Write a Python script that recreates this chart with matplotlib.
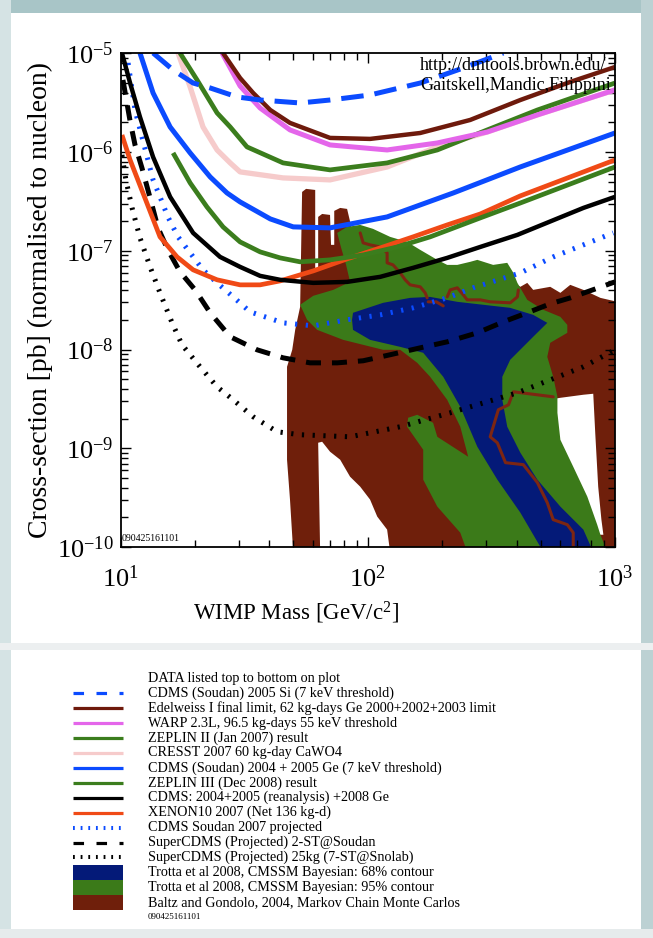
import numpy as np
import matplotlib.pyplot as plt
from matplotlib.patches import Rectangle
from matplotlib.ticker import LogLocator, LogFormatterMathtext, NullFormatter

plt.rcParams['font.family'] = ['Liberation Serif', 'DejaVu Serif']
plt.rcParams['mathtext.fontset'] = 'custom'
plt.rcParams['mathtext.rm'] = 'Liberation Serif'
plt.rcParams['mathtext.it'] = 'Liberation Serif:italic'
plt.rcParams['axes.unicode_minus'] = False

# All curves are stored as log10(mass / GeV) and log10(cross-section / pb)

# --- experimental limits and projections ---
cdms_si_lm = [1.131, 1.212, 1.293, 1.362, 1.471, 1.564, 1.726, 1.847, 2.009, 2.212, 2.386, 2.548]
cdms_si_ls = [-4.997, -5.169, -5.301, -5.351, -5.442, -5.473, -5.503, -5.473, -5.422, -5.301, -5.149, -4.997]

edelweiss_lm = [1.414, 1.483, 1.536, 1.605, 1.685, 1.847, 2.009, 2.212, 2.414, 2.617, 2.819, 3.0]
edelweiss_ls = [-4.997, -5.250, -5.402, -5.574, -5.705, -5.857, -5.867, -5.807, -5.675, -5.473, -5.290, -5.139]

warp_lm = [1.410, 1.483, 1.564, 1.685, 1.847, 2.078, 2.281, 2.483, 2.686, 3.0]
warp_ls = [-4.997, -5.331, -5.554, -5.776, -5.928, -5.979, -5.908, -5.797, -5.624, -5.371]

zeplin2_lm = [1.240, 1.309, 1.390, 1.443, 1.511, 1.657, 1.847, 2.078, 2.281, 2.483, 2.686, 3.0]
zeplin2_ls = [-4.997, -5.270, -5.604, -5.746, -5.948, -6.110, -6.181, -6.110, -5.979, -5.776, -5.574, -5.301]

cresst_lm = [1.232, 1.281, 1.333, 1.390, 1.443, 1.483, 1.657, 1.847, 2.078, 2.281, 2.483, 2.686, 3.0]
cresst_ls = [-4.997, -5.341, -5.746, -5.979, -6.110, -6.201, -6.262, -6.282, -6.151, -5.948, -5.797, -5.624, -5.371]

cdms_ge_lm = [1.078, 1.131, 1.200, 1.281, 1.362, 1.430, 1.483, 1.605, 1.698, 1.847, 2.078, 2.346, 2.617, 3.0]
cdms_ge_ls = [-4.997, -5.402, -5.746, -6.009, -6.252, -6.414, -6.505, -6.677, -6.758, -6.768, -6.657, -6.414, -6.151, -5.807]

zeplin3_lm = [1.212, 1.281, 1.349, 1.414, 1.483, 1.564, 1.645, 1.726, 1.847, 1.981, 2.119, 2.252, 2.455, 2.617, 3.0]
zeplin3_ls = [-6.009, -6.313, -6.556, -6.758, -6.910, -7.011, -7.072, -7.112, -7.092, -7.042, -6.961, -6.859, -6.667, -6.516, -6.151]

cdms_comb_lm = [1.005, 1.038, 1.078, 1.131, 1.200, 1.293, 1.402, 1.483, 1.564, 1.645, 1.779, 1.916,
                2.050, 2.183, 2.321, 2.455, 2.605, 2.872, 3.0]
cdms_comb_ls = [-4.997, -5.301, -5.645, -6.050, -6.454, -6.819, -7.062, -7.163, -7.254, -7.294, -7.325, -7.315,
                -7.264, -7.173, -7.072, -6.961, -6.839, -6.566, -6.454]

xenon_lm = [1.005, 1.038, 1.090, 1.159, 1.228, 1.293, 1.390, 1.483, 1.564, 1.645, 1.779, 1.916,
            2.050, 2.183, 2.321, 2.455, 2.617, 3.0]
xenon_ls = [-5.827, -6.080, -6.414, -6.859, -7.062, -7.193, -7.294, -7.345, -7.345, -7.305, -7.204, -7.082,
            -6.971, -6.859, -6.738, -6.627, -6.444, -6.080]

cdms_proj_lm = [1.030, 1.058, 1.086, 1.107, 1.131, 1.159, 1.191, 1.232, 1.281, 1.333, 1.390, 1.455,
                1.523, 1.657, 1.779, 1.916, 2.050, 2.183, 2.321, 2.426, 2.617, 2.750, 2.993]
cdms_proj_ls = [-5.098, -5.574, -5.847, -6.050, -6.282, -6.454, -6.657, -6.859, -7.021, -7.193, -7.325, -7.467,
                -7.618, -7.730, -7.760, -7.699, -7.649, -7.578, -7.477, -7.375, -7.224, -7.062, -6.819]

scdms_soudan_lm = [1.009, 1.038, 1.058, 1.086, 1.119, 1.151, 1.191, 1.240, 1.301, 1.362, 1.443, 1.552, 1.657,
                   1.766, 1.876, 1.981, 2.090, 2.212, 2.321, 2.443, 2.548, 2.645, 2.738, 2.819, 3.0]
scdms_soudan_ls = [-5.270, -5.686, -5.928, -6.161, -6.465, -6.768, -6.991, -7.213, -7.396, -7.628, -7.871, -8.003,
                   -8.084, -8.135, -8.135, -8.114, -8.053, -7.983, -7.922, -7.831, -7.720, -7.628, -7.537, -7.477,
                   -7.315]

scdms_snolab_lm = [1.005, 1.021, 1.046, 1.078, 1.119, 1.159, 1.208, 1.248, 1.321, 1.390, 1.455, 1.536, 1.633,
                   1.726, 1.928, 2.131, 2.333, 2.605, 2.872, 3.0]
scdms_snolab_ls = [-6.029, -6.282, -6.566, -6.869, -7.163, -7.426, -7.730, -7.952, -8.175, -8.378, -8.509, -8.681,
                   -8.833, -8.863, -8.884, -8.782, -8.641, -8.438, -8.175, -8.003]

# --- theory regions ---
baltz_lm = [1.698, 1.685, 1.673, 1.673, 1.694, 1.706, 1.726, 1.730, 1.734, 1.750, 1.787, 1.787, 1.799, 1.799,
            1.815, 1.847, 1.851, 1.864, 1.864, 1.888, 1.916, 1.936, 2.050, 2.321, 2.605, 2.617, 2.645, 2.669,
            2.738, 2.779, 2.819, 2.872, 2.941, 3.01, 3.01]
baltz_ls = [-10.05, -9.520, -9.116, -8.175, -8.003, -7.801, -7.568, -6.991, -6.404, -6.373, -6.384, -7.193, -7.193,
            -6.657, -6.627, -6.637, -6.940, -6.940, -6.596, -6.566, -6.576, -6.788, -6.940, -7.193, -7.345, -7.365,
            -7.325, -7.396, -7.365, -7.426, -7.345, -7.396, -7.477, -7.517, -10.05]

# gaps in the Baltz & Gondolo region
hole1_lm = [1.799, 1.815, 1.847, 1.888, 1.928, 1.969, 2.009, 2.038, 2.078, 2.090, 1.807]
hole1_ls = [-8.944, -8.934, -9.035, -9.116, -9.288, -9.389, -9.520, -9.692, -9.824, -10.05, -10.05]
hole2_lm = [2.730, 2.779, 2.872, 2.912, 2.920, 2.932, 2.945, 2.953, 2.932, 2.730]
hole2_ls = [-8.509, -8.489, -8.458, -8.448, -8.843, -9.389, -9.723, -9.876, -9.876, -8.711]

trotta95_lm = [1.726, 1.779, 1.860, 1.928, 1.912, 1.892, 1.876, 1.916, 1.969, 2.021, 2.090, 2.159, 2.212, 2.281,
               2.321, 2.362, 2.414, 2.443, 2.507, 2.564, 2.589, 2.605, 2.645, 2.710, 2.779, 2.807, 2.807, 2.738,
               2.726, 2.750, 2.767, 2.767, 2.779, 2.831, 2.888, 2.928, 2.941, 2.969, 2.402, 2.374, 2.281, 2.224,
               2.224, 2.159, 2.163, 2.200, 2.264, 2.281, 2.406, 2.374, 2.321, 2.252, 2.200, 2.131, 2.062, 1.900,
               1.795, 1.754]
trotta95_ls = [-7.547, -7.456, -7.396, -7.315, -7.143, -6.971, -6.819, -6.758, -6.738, -6.778, -6.859, -6.910,
               -6.991, -7.092, -7.143, -7.143, -7.112, -7.092, -7.143, -7.122, -7.224, -7.325, -7.497, -7.598,
               -7.669, -7.750, -7.831, -7.932, -8.074, -8.276, -8.479, -8.641, -8.914, -9.187, -9.490, -9.774,
               -9.876, -10.05, -10.05, -9.855, -9.591, -9.318, -9.015, -8.782, -8.691, -8.661, -8.742, -8.884,
               -9.086, -8.782, -8.509, -8.276, -8.135, -8.003, -8.003, -7.902, -7.801, -7.699]

trotta68_lm = [1.936, 1.940, 2.062, 2.171, 2.252, 2.362, 2.467, 2.576, 2.669, 2.726, 2.669, 2.576, 2.544, 2.544,
               2.564, 2.617, 2.686, 2.779, 2.872, 2.912, 2.710, 2.617, 2.524, 2.443, 2.374, 2.305, 2.224, 2.131,
               2.009, 1.940]
trotta68_ls = [-7.699, -7.628, -7.527, -7.477, -7.467, -7.517, -7.547, -7.578, -7.649, -7.730, -7.871, -8.104,
               -8.276, -8.509, -8.782, -9.045, -9.318, -9.591, -9.824, -10.05, -10.05, -9.652, -9.318, -8.985,
               -8.580, -8.276, -8.033, -7.973, -7.902, -7.801]

# thin Baltz & Gondolo contour pieces running through the Trotta regions
bg_line1_lm = [1.969, 1.981, 2.009, 2.050, 2.078, 2.078, 2.102, 2.131, 2.151, 2.171, 2.212, 2.232, 2.240]
bg_line1_ls = [-6.819, -6.920, -6.940, -6.961, -7.021, -7.122, -7.143, -7.224, -7.294, -7.345, -7.365, -7.426, -7.477]
bg_line2_lm = [2.244, 2.277, 2.305]
bg_line2_ls = [-7.517, -7.517, -7.558]
bg_line3_lm = [2.321, 2.333, 2.362, 2.386, 2.402, 2.455, 2.495, 2.576, 2.605, 2.609]
bg_line3_ls = [-7.467, -7.396, -7.375, -7.446, -7.497, -7.497, -7.517, -7.527, -7.467, -7.396]
bg_line4_lm = [2.750, 2.589, 2.569, 2.528, 2.495, 2.524, 2.557, 2.629, 2.686, 2.726, 2.750, 2.807, 2.831, 2.831]
bg_line4_ls = [-8.479, -8.428, -8.560, -8.610, -8.884, -8.945, -9.146, -9.166, -9.348, -9.551, -9.723, -9.774,
               -9.855, -10.0]

BLUE = '#0b4bff'
NAVY = '#041a78'
GREEN_FILL = '#3b7a19'
BROWN_FILL = '#6f1f0b'
BROWN_EDGE = '#7d2612'

# dash patterns (in units of line width) for the plot and for the legend swatches
LONG_DASH = (0, (4.5, 2.2))
DASH_PLOT = (0, (3.0, 2.2))
DASH_LEG = (0, (3.3, 3.9))
DOT_PLOT = (0, (0.45, 1.7))
DOT_LEG = (0, (0.45, 1.45))

# (label, mass, sigma, colour, plot linewidth, plot style, legend style)
limits = [
    ("CDMS (Soudan) 2005 Si (7 keV threshold)", cdms_si_lm, cdms_si_ls, BLUE, 3.6, LONG_DASH, DASH_LEG),
    ("Edelweiss I final limit, 62 kg-days Ge 2000+2002+2003 limit", edelweiss_lm, edelweiss_ls, '#6e1a0c', 3.2, '-', '-'),
    ("WARP 2.3L, 96.5 kg-days 55 keV threshold", warp_lm, warp_ls, '#e466ea', 3.6, '-', '-'),
    ("ZEPLIN II (Jan 2007) result", zeplin2_lm, zeplin2_ls, '#3b7d1d', 3.4, '-', '-'),
    ("CRESST 2007 60 kg-day CaWO4", cresst_lm, cresst_ls, '#f6cbcb', 3.8, '-', '-'),
    ("CDMS (Soudan) 2004 + 2005 Ge (7 keV threshold)", cdms_ge_lm, cdms_ge_ls, BLUE, 3.6, '-', '-'),
    ("ZEPLIN III (Dec 2008) result", zeplin3_lm, zeplin3_ls, '#3b7d1d', 3.4, '-', '-'),
    ("CDMS: 2004+2005 (reanalysis) +2008 Ge", cdms_comb_lm, cdms_comb_ls, 'black', 3.2, '-', '-'),
    ("XENON10 2007 (Net 136 kg-d)", xenon_lm, xenon_ls, '#f04a16', 3.4, '-', '-'),
    ("CDMS Soudan 2007 projected", cdms_proj_lm, cdms_proj_ls, BLUE, 3.6, DOT_PLOT, DOT_LEG),
    ("SuperCDMS (Projected) 2-ST@Soudan", scdms_soudan_lm, scdms_soudan_ls, 'black', 3.6, DASH_PLOT, DASH_LEG),
    ("SuperCDMS (Projected) 25kg (7-ST@Snolab)", scdms_snolab_lm, scdms_snolab_ls, 'black', 3.6, DOT_PLOT, DOT_LEG),
]
regions = [
    ("Trotta et al 2008, CMSSM Bayesian: 68% contour", NAVY),
    ("Trotta et al 2008, CMSSM Bayesian: 95% contour", GREEN_FILL),
    ("Baltz and Gondolo, 2004, Markov Chain Monte Carlos", BROWN_FILL),
]


def to_lin(lm, ls):
    return 10 ** np.asarray(lm), 10 ** np.asarray(ls)


W, H = 653, 938
fig = plt.figure(figsize=(W / 100, H / 100), dpi=100, facecolor='white')

# paper background and legend live on a full-figure axes in pixel units
bg = fig.add_axes([0, 0, 1, 1], zorder=0)
bg.set_xlim(0, W)
bg.set_ylim(H, 0)
bg.axis('off')
bg.add_patch(Rectangle((0, 0), W, 13, color='#a8c5c7', lw=0))
bg.add_patch(Rectangle((0, 0), 11, H, color='#d5e3e4', lw=0))
bg.add_patch(Rectangle((641, 0), 12, H, color='#bcd1d3', lw=0))
bg.add_patch(Rectangle((0, 643), W, 7, color='#eceff0', lw=0))
bg.add_patch(Rectangle((0, 929), W, 9, color='#e6ebec', lw=0))

ax = fig.add_axes([120.7 / W, 1 - 547 / H, 494.3 / W, 493.7 / H], zorder=1)
ax.set_facecolor('white')
ax.set_xscale('log')
ax.set_yscale('log')

# theory regions
ax.fill(*to_lin(baltz_lm, baltz_ls), color=BROWN_FILL, lw=0, zorder=1)
ax.fill(*to_lin(hole1_lm, hole1_ls), color='white', lw=0, zorder=1.1)
ax.fill(*to_lin(hole2_lm, hole2_ls), color='white', lw=0, zorder=1.1)
ax.fill(*to_lin(trotta95_lm, trotta95_ls), color=GREEN_FILL, lw=0, zorder=1.2)
ax.fill(*to_lin(trotta68_lm, trotta68_ls), color=NAVY, lw=0, zorder=1.3)
for lm, ls in [(bg_line1_lm, bg_line1_ls), (bg_line2_lm, bg_line2_ls),
               (bg_line3_lm, bg_line3_ls), (bg_line4_lm, bg_line4_ls)]:
    ax.plot(*to_lin(lm, ls), color=BROWN_EDGE, lw=2.2, zorder=1.4, solid_capstyle='round')

# limit curves; entries earlier in the list sit on top
n = len(limits)
for i, (label, lm, ls, col, lw, style, _) in enumerate(limits):
    ax.plot(*to_lin(lm, ls), color=col, lw=lw, ls=style, zorder=3 + 0.01 * (n - i),
            solid_capstyle='butt', solid_joinstyle='round')

ax.set_xlim(10, 1000)
ax.set_ylim(1e-10, 1e-5)
ax.xaxis.set_major_locator(LogLocator(base=10, numticks=10))
ax.yaxis.set_major_locator(LogLocator(base=10, numticks=10))
ax.xaxis.set_minor_locator(LogLocator(base=10, subs=np.arange(2, 10), numticks=100))
ax.yaxis.set_minor_locator(LogLocator(base=10, subs=np.arange(2, 10), numticks=100))
ax.xaxis.set_major_formatter(LogFormatterMathtext())
ax.yaxis.set_major_formatter(LogFormatterMathtext())
ax.xaxis.set_minor_formatter(NullFormatter())
ax.yaxis.set_minor_formatter(NullFormatter())
ax.tick_params(which='both', direction='in', top=True, right=True, width=1.0, labelsize=19)
ax.tick_params(which='major', length=7)
ax.tick_params(which='minor', length=5)
ax.tick_params(axis='x', pad=13)
ax.tick_params(axis='y', pad=5)
for sp in ax.spines.values():
    sp.set_linewidth(1.3)
    sp.set_zorder(5)

ax.text(0.6055, 0.976, 'http://dmtools.brown.edu/', transform=ax.transAxes, fontsize=13,
        ha='left', va='center', clip_on=True, zorder=6)
ax.text(0.6055, 0.935, 'Gaitskell,Mandic,Filippini', transform=ax.transAxes, fontsize=13,
        ha='left', va='center', clip_on=True, zorder=6)
ax.text(0.002, 0.008, '090425161101', transform=ax.transAxes, fontsize=7, ha='left', va='bottom', zorder=6)

fig.text(296 / W, 1 - 613 / H, 'WIMP Mass [GeV/c$^2$]', ha='center', va='center', fontsize=16.5)
fig.text(40 / W, 1 - 300 / H, 'Cross-section [pb] (normalised to nucleon)', ha='center', va='center',
         rotation=90, fontsize=20)

# legend block under the plot
row0, step = 678.3, 14.93
x0, x1, xt = 73, 123, 148
fs = 10.2
bg.text(xt, row0, 'DATA listed top to bottom on plot', fontsize=fs, ha='left', va='center')
for i, (label, lm, ls, col, lw, style, leg_style) in enumerate(limits):
    y = row0 + step * (i + 1)
    leg_lw = 2.9 if leg_style == DOT_LEG else 2.3
    bg.plot([x0, x1], [y, y], color=col, lw=leg_lw, ls=leg_style, solid_capstyle='butt')
    bg.text(xt, y, label, fontsize=fs, ha='left', va='center')
for j, (label, col) in enumerate(regions):
    y = row0 + step * (len(limits) + 1 + j)
    bg.add_patch(Rectangle((x0, y - step / 2), x1 - x0, step, color=col, lw=0))
    bg.text(xt, y, label, fontsize=fs, ha='left', va='center')
bg.text(xt, row0 + step * (len(limits) + len(regions) + 1), '090425161101', fontsize=6.5,
        ha='left', va='center')

fig.savefig('out.png', dpi=100)
